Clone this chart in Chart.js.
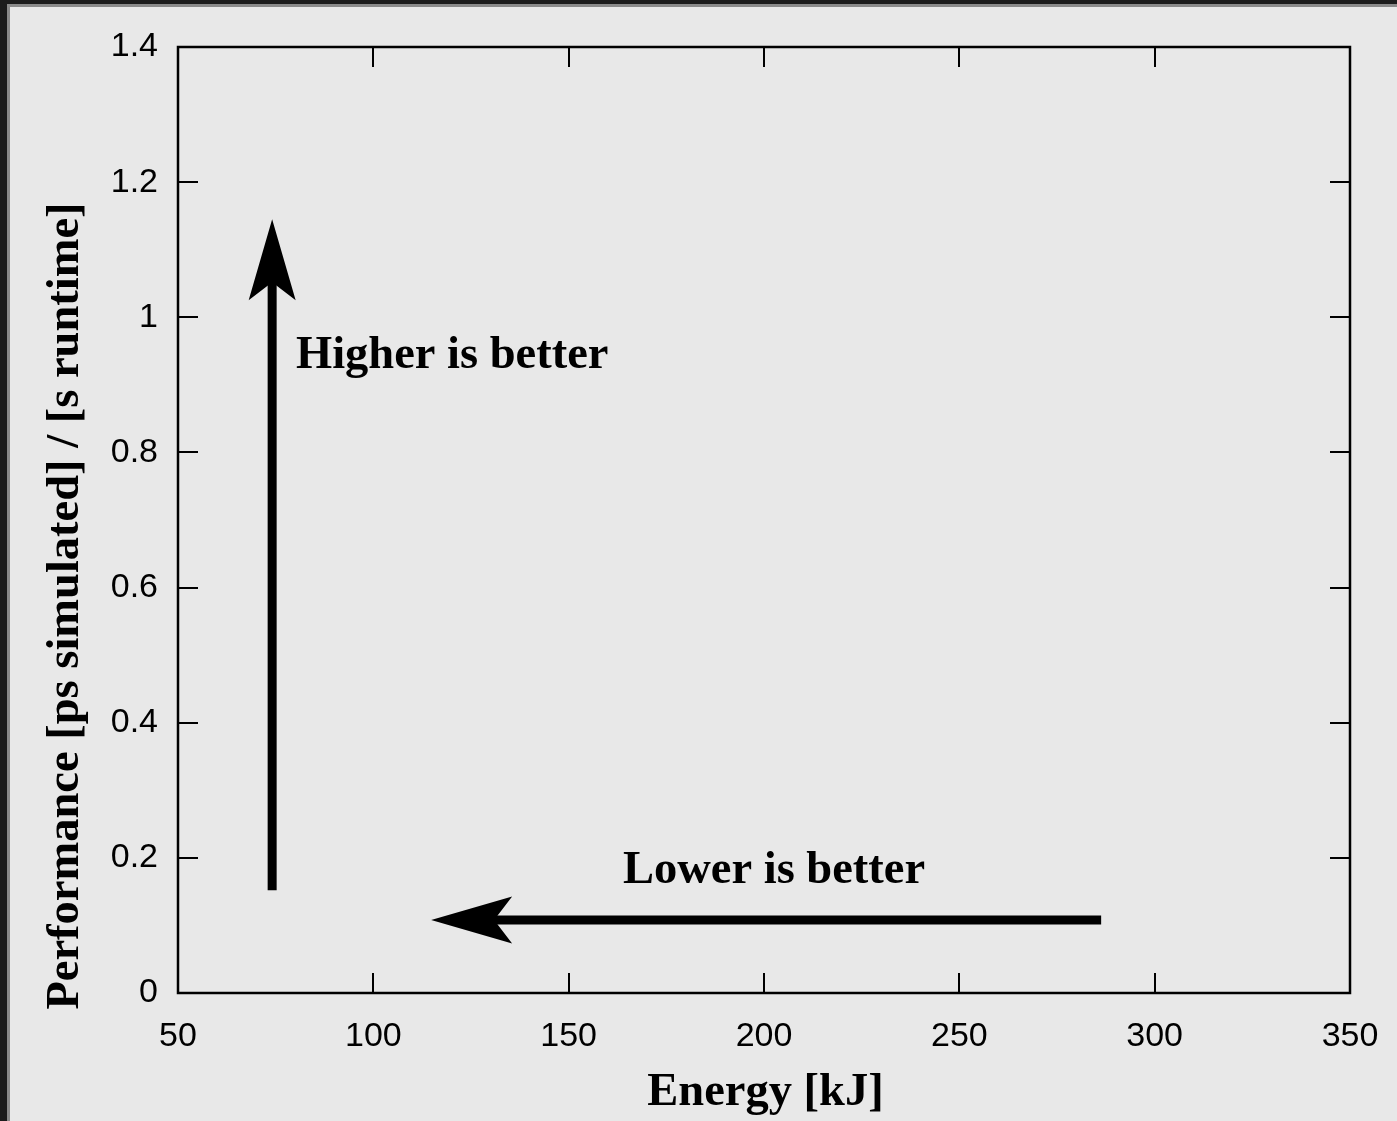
<!DOCTYPE html>
<html>
<head>
<meta charset="utf-8">
<script src="https://cdn.jsdelivr.net/npm/chart.js@4"></script>
<style>
  html, body { margin: 0; padding: 0; background: #e8e8e8; width: 1397px; height: 1121px; overflow: hidden; }
  #wrap { position: absolute; left: 0; top: 0; width: 1397px; height: 1121px; }
  canvas { position: absolute; left: 0; top: 0; }
  .b { position: absolute; pointer-events: none; }
</style>
</head>
<body>
<div id="wrap">
  <canvas id="c" width="1397" height="1121"></canvas>
  <div class="b" style="left:0;top:0;width:1397px;height:4px;background:#1c1c1c"></div>
  <div class="b" style="left:0;top:0;width:7px;height:1121px;background:#1c1c1c"></div>
  <div class="b" style="left:7px;top:4px;width:1390px;height:3px;background:#8a8a8a"></div>
  <div class="b" style="left:7px;top:4px;width:3px;height:1117px;background:#8a8a8a"></div>
</div>
<script>
// ---- data ----
const xRange = [50, 350];
const yRange = [0, 1.4];
const xStep = 50;
const yStep = 0.2;
const xTitle = 'Energy [kJ]';
const yTitle = 'Performance [ps simulated] / [s runtime]';

// arrows: [from, to] in data units
const higherArrowX = [74.1, 74.1];
const higherArrowY = [0.152, 1.145];
const lowerArrowX = [286.3, 114.8];
const lowerArrowY = [0.108, 0.108];

// annotation labels (left edge / baseline in data units)
const labelTexts = ['Higher is better', 'Lower is better'];
const labelX = [80.2, 163.9];
const labelY = [0.925, 0.163];

const tickFont = { family: "'Liberation Sans', Arial, sans-serif", size: 34 };
const titleFontCss = "bold 46.5px 'Liberation Serif', 'Times New Roman', serif";

const gnuplotDecor = {
  id: 'gnuplotDecor',
  afterDraw(chart) {
    const ctx = chart.ctx;
    const a = chart.chartArea;
    const xs = chart.scales.x, ys = chart.scales.y;
    ctx.save();
    // inward mirrored ticks
    ctx.strokeStyle = '#000';
    ctx.lineWidth = 2;
    const tl = 20;
    xs.ticks.forEach(t => {
      const px = Math.round(xs.getPixelForValue(t.value));
      ctx.beginPath();
      ctx.moveTo(px, a.bottom); ctx.lineTo(px, a.bottom - tl);
      ctx.moveTo(px, a.top); ctx.lineTo(px, a.top + tl);
      ctx.stroke();
    });
    ys.ticks.forEach(t => {
      const py = Math.round(ys.getPixelForValue(t.value));
      ctx.beginPath();
      ctx.moveTo(a.left, py); ctx.lineTo(a.left + tl, py);
      ctx.moveTo(a.right, py); ctx.lineTo(a.right - tl, py);
      ctx.stroke();
    });
    // border
    ctx.lineWidth = 2.5;
    ctx.strokeRect(a.left, a.top, a.right - a.left, a.bottom - a.top);

    // arrows
    function arrow(xv, yv) {
      const x0 = xs.getPixelForValue(xv[0]), y0 = ys.getPixelForValue(yv[0]);
      const x1 = xs.getPixelForValue(xv[1]), y1 = ys.getPixelForValue(yv[1]);
      const dx = x1 - x0, dy = y1 - y0;
      const len = Math.hypot(dx, dy);
      const ux = dx / len, uy = dy / len;
      const nx = -uy, ny = ux;
      const headLen = 81, notch = 63, half = 23.5;
      ctx.lineWidth = 9;
      ctx.lineCap = 'butt';
      ctx.beginPath();
      ctx.moveTo(x0, y0);
      ctx.lineTo(x1 - ux * (notch - 2), y1 - uy * (notch - 2));
      ctx.stroke();
      ctx.fillStyle = '#000';
      ctx.beginPath();
      ctx.moveTo(x1, y1);
      ctx.lineTo(x1 - ux * headLen + nx * half, y1 - uy * headLen + ny * half);
      ctx.lineTo(x1 - ux * notch, y1 - uy * notch);
      ctx.lineTo(x1 - ux * headLen - nx * half, y1 - uy * headLen - ny * half);
      ctx.closePath();
      ctx.fill();
    }
    arrow(higherArrowX, higherArrowY);
    arrow(lowerArrowX, lowerArrowY);

    // labels
    ctx.font = titleFontCss;
    ctx.fillStyle = '#000';
    ctx.textBaseline = 'alphabetic';
    ctx.textAlign = 'left';
    labelTexts.forEach((t, i) => {
      ctx.fillText(t, xs.getPixelForValue(labelX[i]), ys.getPixelForValue(labelY[i]));
    });

    // axis titles
    ctx.textAlign = 'center';
    ctx.fillText(xTitle, (a.left + a.right) / 2 + 1.5, 1105);
    ctx.translate(78, 606);
    ctx.rotate(-Math.PI / 2);
    ctx.fillText(yTitle, 0, 0);
    ctx.restore();
  }
};

new Chart(document.getElementById('c'), {
  type: 'scatter',
  data: { datasets: [] },
  options: {
    responsive: false,
    animation: false,
    events: [],
    layout: { padding: { left: 0, top: 47, right: 47, bottom: 0 } },
    plugins: { legend: { display: false }, tooltip: { enabled: false } },
    scales: {
      x: {
        type: 'linear', position: 'bottom',
        min: xRange[0], max: xRange[1],
        ticks: { stepSize: xStep, color: '#000', font: tickFont, padding: 23, maxRotation: 0 },
        grid: { display: true, drawOnChartArea: false, drawTicks: false },
        border: { display: false },
        afterFit(s) { s.height = 128; s.paddingLeft = 0; s.paddingRight = 0; }
      },
      y: {
        type: 'linear', position: 'left',
        min: yRange[0], max: yRange[1],
        ticks: {
          stepSize: yStep, color: '#000', font: tickFont, padding: 20,
          callback: v => String(Math.round(v * 10) / 10)
        },
        grid: { display: true, drawOnChartArea: false, drawTicks: false },
        border: { display: false },
        afterFit(s) { s.width = 178; s.paddingTop = 0; s.paddingBottom = 0; }
      }
    }
  },
  plugins: [gnuplotDecor]
});
</script>
</body>
</html>
